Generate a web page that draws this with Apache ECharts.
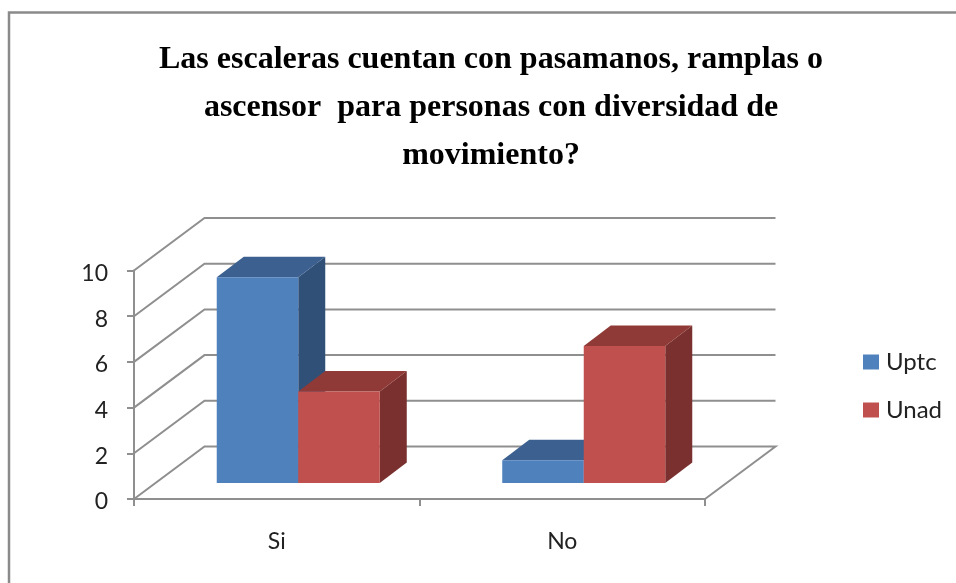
<!DOCTYPE html>
<html>
<head>
<meta charset="utf-8">
<style>html,body{margin:0;padding:0;background:#fff}#c{width:956px;height:583px}</style>
<script src="https://cdn.jsdelivr.net/npm/echarts@6/dist/echarts.min.js"></script>
</head>
<body>
<div id="c"></div>
<script>
var titleLines = ['Las escaleras cuentan con pasamanos, ramplas o', 'ascensor  para personas con diversidad de', 'movimiento?'];
var categories = ['Si', 'No'];
var uptc = [9, 1];
var unad = [4, 6];
var yTicks = [0, 2, 4, 6, 8, 10];

var DEPTH_X = 70.5, DEPTH_Y = 52.5;      // wall depth in pixels
var BAR_POS = 0.305;                     // where bars sit in the depth
var BAR_DEPTH_X = 27, BAR_DEPTH_Y = 20.5;
var BAR_WIDTH = 0.2855;                  // fraction of the category band
var GRID = '#8f8f8f', TEXT = '#222';
var FONT = 'Lato';

function barRenderer(side, front, top, dark) {
  return function (params, api) {
    var base = api.coord([api.value(0), 0]);
    var tip = api.coord([api.value(0), api.value(1)]);
    var band = api.size([1, 0])[0];
    var w = band * BAR_WIDTH;
    var ox = DEPTH_X * BAR_POS, oy = DEPTH_Y * BAR_POS;
    var x0 = base[0] + ox + side * w, x1 = x0 + w;
    var y0 = base[1] - oy, y1 = tip[1] - oy;
    var dx = BAR_DEPTH_X, dy = BAR_DEPTH_Y;
    return { type: 'group', children: [
      { type: 'polygon', shape: { points: [[x1, y0], [x1 + dx, y0 - dy], [x1 + dx, y1 - dy], [x1, y1]] }, style: { fill: dark } },
      { type: 'polygon', shape: { points: [[x0, y1], [x1, y1], [x1 + dx, y1 - dy], [x0 + dx, y1 - dy]] }, style: { fill: top } },
      { type: 'rect', shape: { x: x0, y: y1, width: w, height: y0 - y1 }, style: { fill: front } }
    ] };
  };
}

function wallRenderer(params, api) {
  var v = api.value(1);
  var p = api.coord([0, v]);
  var band = api.size([1, 0])[0];
  var left = p[0] - band / 2;
  var right = left + band * categories.length;
  var pts = [[left, p[1]], [left + DEPTH_X, p[1] - DEPTH_Y], [right + DEPTH_X, p[1] - DEPTH_Y]];
  if (v === 0) pts.push([right, p[1]]);
  return { type: 'polyline', shape: { points: pts }, style: { fill: null, stroke: GRID, lineWidth: 2 } };
}

var chart = echarts.init(document.getElementById('c'));
chart.setOption({
  animation: false,
  backgroundColor: '#fff',
  title: {
    text: titleLines.join('\n'),
    left: 486, top: 31, textAlign: 'center',
    textStyle: { fontFamily: 'Liberation Serif', fontWeight: 'bold', fontSize: 32, lineHeight: 48, color: '#000' }
  },
  legend: {
    orient: 'vertical', left: 858, top: 345, itemWidth: 16, itemHeight: 15, itemGap: 24,
    data: ['Uptc', 'Unad'], icon: 'rect',
    textStyle: { fontFamily: FONT, fontSize: 24, color: TEXT, padding: [0, 0, 0, 2] }
  },
  grid: { left: 134, top: 270.5, width: 571, height: 228.5 },
  xAxis: {
    type: 'category', data: categories,
    axisLine: { show: true, lineStyle: { color: GRID, width: 2 } },
    axisTick: { show: true, length: 7, lineStyle: { color: GRID, width: 2 } },
    axisLabel: { fontFamily: FONT, fontSize: 23, color: TEXT, margin: 31 }
  },
  yAxis: {
    type: 'value', min: 0, max: 10, interval: 2,
    splitLine: { show: false },
    axisLine: { show: true, lineStyle: { color: GRID, width: 2 } },
    axisTick: { show: true, length: 7, lineStyle: { color: GRID, width: 2 } },
    axisLabel: {
      margin: 26,
      formatter: '{n|{value}}',
      rich: { n: { fontFamily: FONT, fontSize: 23, color: TEXT, padding: [6, 0, 0, 0] } }
    }
  },
  series: [
    { type: 'custom', silent: true, clip: false, z: 1, renderItem: wallRenderer,
      data: yTicks.map(function (t) { return [0, t]; }), encode: { x: 0, y: 1 } },
    { type: 'custom', name: 'Uptc', clip: false, z: 2, itemStyle: { color: '#4F81BD' },
      renderItem: barRenderer(-1, '#4F81BD', '#3C6190', '#305078'),
      data: uptc.map(function (v, i) { return [i, v]; }), encode: { x: 0, y: 1 } },
    { type: 'custom', name: 'Unad', clip: false, z: 3, itemStyle: { color: '#C0504D' },
      renderItem: barRenderer(0, '#C0504D', '#8F3A37', '#7A302E'),
      data: unad.map(function (v, i) { return [i, v]; }), encode: { x: 0, y: 1 } }
  ],
  graphic: [
    { type: 'polyline', silent: true, z: 10,
      shape: { points: [[9, 583], [9, 12.5], [956, 12.5]] },
      style: { fill: null, stroke: '#8a8a8a', lineWidth: 2.5 } }
  ]
});
</script>
</body>
</html>
